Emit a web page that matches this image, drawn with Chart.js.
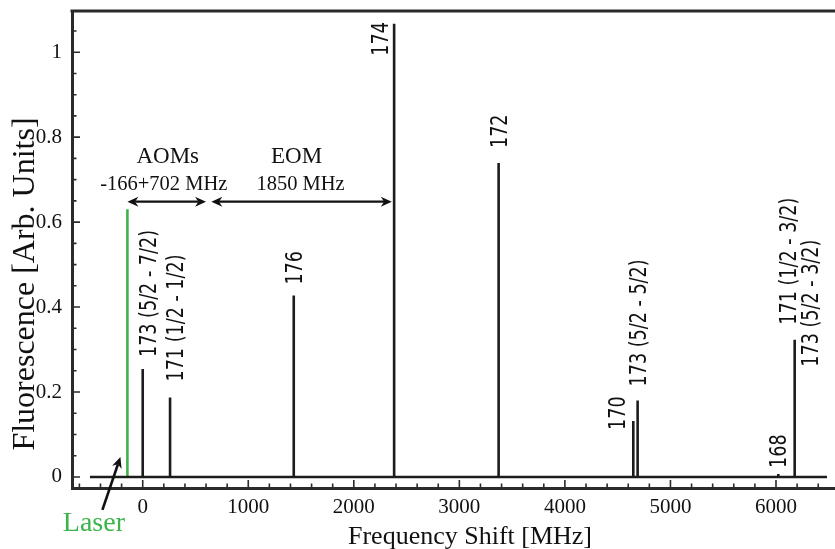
<!DOCTYPE html>
<html>
<head>
<meta charset="utf-8">
<script src="https://cdn.jsdelivr.net/npm/chart.js@4.4.1/dist/chart.umd.min.js"></script>
<style>
  html, body { margin: 0; padding: 0; background: #fff; }
  canvas { display: block; }
</style>
</head>
<body>
<canvas id="spectrum" width="835" height="549"></canvas>
<script>
// Isotope / hyperfine lines: frequency shift (MHz) and relative fluorescence
const peakShift  = [0, 259, 1431, 2382, 3372, 4648, 4689, 6022, 6177];
const peakHeight = [0.254, 0.187, 0.427, 1.067, 0.739, 0.132, 0.180, 0.007, 0.323];
const peakLabel  = [
  "173 (5/2 - 7/2)", "171 (1/2 - 1/2)", "176", "174", "172",
  "170", "173 (5/2 - 5/2)", "168", ["171 (1/2 - 3/2)", "173 (5/2 - 3/2)"]
];
// extent of the scanned baseline (MHz)
const scanRange = [-500, 6483];

// laser line
const laserShift  = [-145];
const laserHeight = [0.63];

// frequency shifters between the laser and the 174 line
const shifterName  = ["AOMs", "EOM"];
const shifterValue = ["-166+702 MHz", "1850 MHz"];
const shifterFrom  = [-145, 650];
const shifterTo    = [600, 2360];
const shifterLevel = [0.648, 0.648];

// axis tick labels
const xTicks = [0, 1000, 2000, 3000, 4000, 5000, 6000];
const yTicks = [0, 0.2, 0.4, 0.6, 0.8, 1];

// stick spectrum: flat baseline with a vertical stroke per line
const spectrum = [{ x: scanRange[0], y: 0 }];
peakShift.forEach((f, i) => {
  spectrum.push({ x: f, y: 0 }, { x: f, y: peakHeight[i] }, { x: f, y: 0 });
});
spectrum.push({ x: scanRange[1], y: 0 });

const laser = [{ x: laserShift[0], y: 0 }, { x: laserShift[0], y: laserHeight[0] }];

// label placement next to each stick (px): horizontal shift, gap above the stick top
const labelPlace = [
  { dx: 5, gap: 12 }, { dx: 5, gap: 16 }, { dx: 0, gap: 11 }, { dx: -15, gap: -32 },
  { dx: 0, gap: 15 }, { dx: -17, gap: -9 }, { dx: 0, gap: 14 }, { dx: -1, gap: 6 },
  [{ dx: -7, gap: 15 }, { dx: 15, gap: -27 }]
];
const shifterNameDx  = [1, -5];
const shifterValueDx = [-3, -1];

const FRAME = '#2a2a2a';
const INK = '#111111';
const GREEN = '#3cb44b';
const SERIF = '"Liberation Serif", "Times New Roman", serif';
const SANS = '"DejaVu Sans", sans-serif';

function arrowHead(ctx, tx, ty, ang, len, half) {
  const c = Math.cos(ang), s = Math.sin(ang);
  ctx.beginPath();
  ctx.moveTo(tx, ty);
  ctx.lineTo(tx - len * c - half * s, ty - len * s + half * c);
  ctx.lineTo(tx - 0.7 * len * c, ty - 0.7 * len * s);
  ctx.lineTo(tx - len * c + half * s, ty - len * s - half * c);
  ctx.closePath();
  ctx.fill();
}

function arrow(ctx, x1, y1, x2, y2, both) {
  const ang = Math.atan2(y2 - y1, x2 - x1);
  const len = 11, half = 5;
  const c = Math.cos(ang), s = Math.sin(ang);
  ctx.beginPath();
  if (both) ctx.moveTo(x1 + 0.7 * len * c, y1 + 0.7 * len * s);
  else ctx.moveTo(x1, y1);
  ctx.lineTo(x2 - 0.7 * len * c, y2 - 0.7 * len * s);
  ctx.stroke();
  arrowHead(ctx, x2, y2, ang, len, half);
  if (both) arrowHead(ctx, x1, y1, ang + Math.PI, len, half);
}

// text written bottom-to-top, narrowed along the reading direction
function textUp(ctx, text, cx, startY, capH, squeeze) {
  ctx.save();
  ctx.translate(cx, startY);
  ctx.rotate(-Math.PI / 2);
  ctx.scale(squeeze, 1);
  ctx.textAlign = 'left';
  ctx.textBaseline = 'alphabetic';
  ctx.fillText(text, 0, capH / 2);
  ctx.restore();
}

const annotate = {
  id: 'annotate',
  afterDraw(chart) {
    const { ctx, chartArea: a, scales: { x, y } } = chart;
    ctx.save();

    // top edge of the frame
    ctx.strokeStyle = FRAME;
    ctx.lineWidth = 3;
    ctx.beginPath();
    ctx.moveTo(a.left - 1.5, a.top);
    ctx.lineTo(a.right, a.top);
    ctx.stroke();

    // inward major / minor ticks
    ctx.lineWidth = 1.6;
    ctx.beginPath();
    for (let k = -3; k <= 32; k++) {
      const px = x.getPixelForValue(k * 200);
      const len = k % 5 === 0 ? 8 : 4.5;
      ctx.moveTo(px, a.bottom);
      ctx.lineTo(px, a.bottom - len);
    }
    for (let k = 0; k <= 21; k++) {
      const py = y.getPixelForValue(k * 0.05);
      const len = k % 4 === 0 ? 8 : 4.5;
      ctx.moveTo(a.left, py);
      ctx.lineTo(a.left + len, py);
    }
    ctx.stroke();

    // line labels
    ctx.fillStyle = INK;
    ctx.font = '23px ' + SANS;
    peakShift.forEach((f, i) => {
      const px = x.getPixelForValue(f);
      const top = y.getPixelForValue(peakHeight[i]);
      const lines = Array.isArray(peakLabel[i]) ? peakLabel[i] : [peakLabel[i]];
      const places = Array.isArray(labelPlace[i]) ? labelPlace[i] : [labelPlace[i]];
      lines.forEach((t, j) => textUp(ctx, t, px + places[j].dx, top - places[j].gap, 16.8, 0.765));
    });

    // AOM / EOM shift arrows
    ctx.strokeStyle = INK;
    ctx.fillStyle = INK;
    ctx.lineWidth = 2.2;
    ctx.textAlign = 'center';
    ctx.textBaseline = 'alphabetic';
    shifterName.forEach((name, i) => {
      const x1 = x.getPixelForValue(shifterFrom[i]);
      const x2 = x.getPixelForValue(shifterTo[i]);
      const py = y.getPixelForValue(shifterLevel[i]);
      arrow(ctx, x1, py, x2, py, true);
      const mid = (x1 + x2) / 2;
      ctx.font = '23px ' + SERIF;
      ctx.fillText(name, mid + shifterNameDx[i], py - 39);
      ctx.font = '20.5px ' + SERIF;
      ctx.fillText(shifterValue[i], mid + shifterValueDx[i], py - 12);
    });

    // laser pointer
    const lx = x.getPixelForValue(laserShift[0]);
    const ly = y.getPixelForValue(0);
    ctx.lineWidth = 2.6;
    arrow(ctx, lx - 25, ly + 33, lx - 7, ly - 20, false);
    ctx.fillStyle = GREEN;
    ctx.font = '28px ' + SERIF;
    ctx.fillText('Laser', lx - 33.5, ly + 54.5);

    // axis titles
    ctx.fillStyle = INK;
    ctx.font = '26px ' + SERIF;
    ctx.fillText('Frequency Shift [MHz]', 470, 543.5);
    ctx.save();
    ctx.translate(33.5, 284);
    ctx.rotate(-Math.PI / 2);
    ctx.font = '32px ' + SERIF;
    ctx.fillText('Fluorescence [Arb. Units]', 0, 0);
    ctx.restore();

    ctx.restore();
  }
};

new Chart(document.getElementById('spectrum'), {
  type: 'scatter',
  data: {
    datasets: [
      {
        data: spectrum,
        showLine: true,
        borderColor: '#1c1c1c',
        borderWidth: 2.6,
        borderJoinStyle: 'bevel',
        borderCapStyle: 'butt',
        pointRadius: 0,
        tension: 0
      },
      {
        data: laser,
        showLine: true,
        borderColor: GREEN,
        borderWidth: 2.6,
        borderCapStyle: 'butt',
        pointRadius: 0,
        tension: 0
      }
    ]
  },
  options: {
    responsive: false,
    devicePixelRatio: 1,
    animation: false,
    layout: { padding: { top: 11, left: 0, right: 0, bottom: 0 } },
    plugins: { legend: { display: false }, tooltip: { enabled: false } },
    scales: {
      x: {
        type: 'linear',
        min: -670,
        max: 6559,
        afterFit: s => { s.height = 61; s.paddingLeft = 0; s.paddingRight = 0; },
        afterBuildTicks: s => { s.ticks = xTicks.map(v => ({ value: v })); },
        grid: { display: false, drawTicks: false },
        border: { display: true, color: FRAME, width: 3 },
        ticks: {
          color: INK,
          font: { family: SERIF, size: 21 },
          padding: 7,
          maxRotation: 0,
          autoSkip: false,
          callback: v => String(v)
        }
      },
      y: {
        type: 'linear',
        min: -0.026,
        max: 1.097,
        afterFit: s => { s.width = 72; s.paddingTop = 0; s.paddingBottom = 0; },
        afterBuildTicks: s => { s.ticks = yTicks.map(v => ({ value: v })); },
        grid: { display: false, drawTicks: false },
        border: { display: true, color: FRAME, width: 3 },
        ticks: {
          color: INK,
          font: { family: SERIF, size: 21 },
          padding: 10,
          autoSkip: false,
          callback: v => String(v)
        }
      }
    }
  },
  plugins: [annotate]
});
</script>
</body>
</html>
